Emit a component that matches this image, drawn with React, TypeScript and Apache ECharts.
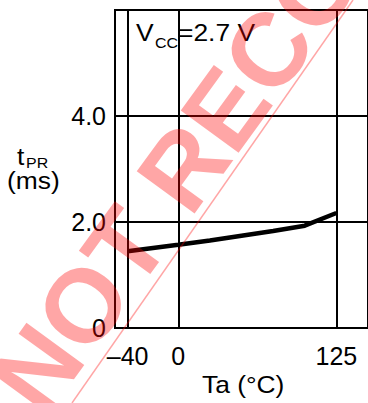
import React, { useEffect, useRef } from "react";
import * as echarts from "echarts";

// Data
const temps = [-40, 0, 25, 50, 75, 100, 125];
const tpr = [1.45, 1.57, 1.65, 1.74, 1.83, 1.93, 2.17];
const xTickValues = [-40, 0, 125];
const yTickValues = [0, 2, 4, 6];

const FONT = "'Liberation Sans', Arial, sans-serif";
const WM = "rgba(255,0,0,0.35)";

// helper: place text by its baseline (ECharts places graphic text by its top)
const txt = (text: string, x: number, baseline: number, size: number) => ({
  type: "text",
  x,
  y: baseline - Math.round(size * 0.83),
  scaleX: 1.1,
  style: { text, font: `${size}px ${FONT}`, fill: "#000" },
});

export default function App() {
  const ref = useRef<HTMLDivElement>(null);

  useEffect(() => {
    if (!ref.current) return;
    const chart = echarts.init(ref.current, undefined, { renderer: "svg" });
    const deg = 54;
    const ang = (deg * Math.PI) / 180;
    const wmSize = 104;
    const up = [-Math.sin(ang), -Math.cos(ang)];
    const shift = wmSize * 0.83;
    const bx = 43;
    const by = 419;
    chart.setOption({
      animation: false,
      grid: {
        left: 115,
        top: 10,
        right: -2,
        bottom: 75,
        show: true,
        borderColor: "#000",
        borderWidth: 2,
      },
      xAxis: {
        type: "value",
        min: -50,
        max: 150,
        axisLine: { show: true, lineStyle: { color: "#000", width: 2 } },
        axisTick: { show: false },
        splitLine: { show: false },
        axisLabel: {
          customValues: xTickValues,
          color: "#000",
          fontFamily: FONT,
          fontSize: 25,
          margin: 15,
          formatter: (v: number) => (v < 0 ? "\u2013" + Math.abs(v) : String(v)),
        },
      },
      yAxis: {
        type: "value",
        min: 0,
        max: 6,
        interval: 2,
        axisLine: { show: true, lineStyle: { color: "#000", width: 2 } },
        axisTick: { show: false },
        splitLine: { show: true, lineStyle: { color: "#000", width: 2 } },
        axisLabel: {
          color: "#000",
          fontFamily: FONT,
          fontSize: 25,
          margin: 9,
          formatter: (v: number) =>
            v === 0 ? "0" : v === yTickValues[yTickValues.length - 1] ? "" : v.toFixed(1),
        },
      },
      series: [
        {
          type: "line",
          data: temps.map((t, i) => [t, tpr[i]]),
          symbol: "none",
          lineStyle: { color: "#000", width: 4.5 },
          markLine: {
            silent: true,
            symbol: "none",
            label: { show: false },
            lineStyle: { color: "#000", width: 2, type: "solid" },
            data: xTickValues.map((v) => ({ xAxis: v })),
          },
        },
      ],
      graphic: [
        txt("V", 136, 40, 24),
        txt("CC", 155, 47, 14.5),
        txt("=2.7 V", 178, 40, 24),
        txt("t", 17, 164, 24),
        txt("PR", 26, 167, 14.5),
        txt("(ms)", 7, 188, 24),
        txt("Ta (\u00B0C)", 202, 392, 24),
        {
          type: "text",
          x: bx + up[0] * shift,
          y: by + up[1] * shift,
          rotation: ang,
          z: 100,
          style: { text: "NOT RECOMMENDED", font: `bold ${wmSize}px ${FONT}`, fill: WM },
        },
        {
          type: "line",
          z: 100,
          shape: { x1: 72, y1: 403, x2: 353, y2: 0 },
          style: { stroke: WM, lineWidth: 1.5 },
        },
      ],
    });
    return () => chart.dispose();
  }, []);

  return (
    <div
      ref={ref}
      style={{ position: "fixed", left: 0, top: 0, width: 368, height: 403, background: "#fff" }}
    />
  );
}
